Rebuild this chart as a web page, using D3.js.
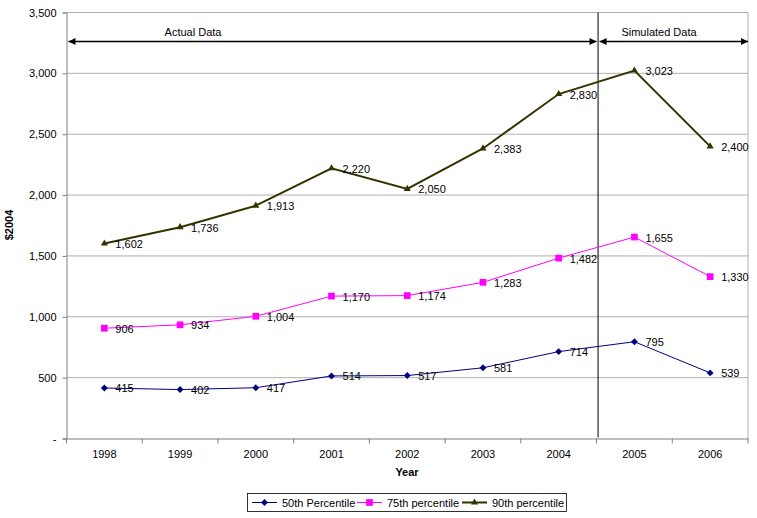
<!DOCTYPE html>
<html><head><meta charset="utf-8">
<script src="https://cdn.jsdelivr.net/npm/d3@7"></script>
<style>body{margin:0;background:#fff}svg{display:block;font-family:"Liberation Sans",Arial,sans-serif}</style>
</head><body><svg id="c" width="757" height="518"></svg>
<script>
const years = ["1998","1999","2000","2001","2002","2003","2004","2005","2006"];
const p50 = [415,402,417,514,517,581,714,795,539];
const p75 = [906,934,1004,1170,1174,1283,1482,1655,1330];
const p90 = [1602,1736,1913,2220,2050,2383,2830,3023,2400];
const yTicks = [0,500,1000,1500,2000,2500,3000,3500];
const seriesNames = ["50th Percentile","75th percentile","90th percentile"];

const svg = d3.select("#c");
const L=66.5, R=748, T=12.5, B=438.5;
const x = d3.scaleBand().domain(years).range([L,R]);
const y = d3.scaleLinear().domain([0,3500]).range([B,T]);
const fmt = d3.format(",");

// gridlines
svg.append("g").selectAll("line").data(yTicks.filter(d=>d>0)).join("line")
  .attr("x1",L).attr("x2",R).attr("y1",d=>y(d)).attr("y2",d=>y(d))
  .attr("stroke","#b0b0b0").attr("stroke-width",1);
svg.append("line").attr("x1",R).attr("x2",R).attr("y1",T).attr("y2",B).attr("stroke","#b0b0b0");

// y axis
const yAxis = d3.axisLeft(y).tickValues(yTicks).tickSize(4).tickPadding(6)
  .tickFormat(d=>d===0?"-":fmt(d));
const gy = svg.append("g").attr("transform",`translate(${L},0)`).call(yAxis);
gy.select(".domain").attr("stroke","#808080");
gy.selectAll(".tick line").attr("stroke","#808080");
gy.selectAll("text").attr("font-size",11).attr("fill","#000").attr("font-family","Liberation Sans, Arial, sans-serif");

// x axis
const xAxis = d3.axisBottom(x).tickSize(0).tickPadding(12);
const gx = svg.append("g").attr("transform",`translate(0,${B})`).call(xAxis);
gx.select(".domain").attr("stroke","#808080");
gx.selectAll("text").attr("font-size",11).attr("fill","#000").attr("font-family","Liberation Sans, Arial, sans-serif");
const bounds = years.map(d=>x(d)).concat([R]);
svg.append("g").selectAll("line").data(bounds).join("line")
  .attr("x1",d=>d).attr("x2",d=>d).attr("y1",B).attr("y2",B+5).attr("stroke","#808080");

// axis titles
svg.append("text").attr("x",407).attr("y",476).attr("text-anchor","middle")
  .attr("font-size",11).attr("font-weight","bold").text("Year");
svg.append("text").attr("transform","translate(13,225) rotate(-90)").attr("text-anchor","middle")
  .attr("font-size",11).attr("font-weight","bold").text("$2004");

// divider
const div = x("2005") + 1.5;
svg.append("line").attr("x1",div).attr("x2",div).attr("y1",T).attr("y2",B-1).attr("stroke","#000").attr("stroke-width",1);

// arrows
const defs = svg.append("defs");
defs.append("marker").attr("id","ah").attr("viewBox","0 0 10 10").attr("refX",10).attr("refY",5)
  .attr("markerWidth",10).attr("markerHeight",7).attr("markerUnits","userSpaceOnUse").attr("orient","auto-start-reverse")
  .append("path").attr("d","M0,0L10,5L0,10Z").attr("fill","#000");
const ay = 41.5;
function arrow(x1,x2){
  svg.append("line").attr("x1",x1).attr("x2",x2).attr("y1",ay).attr("y2",ay)
    .attr("stroke","#000").attr("stroke-width",1.5)
    .attr("marker-start","url(#ah)").attr("marker-end","url(#ah)");
}
arrow(L+2, div-1.5);
arrow(div+1.5, R);
svg.append("text").attr("x",193).attr("y",36).attr("text-anchor","middle").attr("font-size",11).text("Actual Data");
svg.append("text").attr("x",659).attr("y",36).attr("text-anchor","middle").attr("font-size",11).text("Simulated Data");

// custom diamond (rotated square)
const diamond = {draw(ctx,size){const r=Math.sqrt(size/2);ctx.moveTo(0,-r);ctx.lineTo(r,0);ctx.lineTo(0,r);ctx.lineTo(-r,0);ctx.closePath();}};

const cx = d=>x(d)+x.bandwidth()/2;
const series = [
  {name:seriesNames[0], vals:p50, color:"#000080", shape:diamond, size:24, w:1},
  {name:seriesNames[1], vals:p75, color:"#FF00FF", shape:d3.symbolSquare, size:45, w:1},
  {name:seriesNames[2], vals:p90, color:"#333300", shape:d3.symbolTriangle, size:22, w:2}
];
const line = d3.line().x((v,i)=>cx(years[i])).y(v=>y(v));
series.forEach(s=>{
  const g = svg.append("g");
  g.append("path").attr("d",line(s.vals)).attr("fill","none").attr("stroke",s.color).attr("stroke-width",s.w);
  g.selectAll("path.m").data(s.vals).join("path").attr("class","m")
    .attr("transform",(v,i)=>`translate(${cx(years[i])},${y(v)})`)
    .attr("d",d3.symbol().type(s.shape).size(s.size)).attr("fill",s.color);
  g.selectAll("text").data(s.vals).join("text")
    .attr("x",(v,i)=>cx(years[i])+11).attr("y",v=>y(v)+4.5)
    .attr("font-size",11).attr("fill","#000").text(v=>fmt(v));
});

// legend
const lg = svg.append("g");
lg.append("rect").attr("x",247.5).attr("y",493.5).attr("width",319).attr("height",18)
  .attr("fill","#fff").attr("stroke","#000").attr("stroke-width",0.8);
const lx = [252, 357, 462];
series.forEach((s,i)=>{
  const gx0 = lx[i];
  lg.append("line").attr("x1",gx0).attr("x2",gx0+25).attr("y1",502.5).attr("y2",502.5)
    .attr("stroke",s.color).attr("stroke-width",s.w);
  lg.append("path").attr("transform",`translate(${gx0+12.5},502.5)`)
    .attr("d",d3.symbol().type(s.shape).size(s.size)).attr("fill",s.color);
  lg.append("text").attr("x",gx0+30).attr("y",506.5).attr("font-size",11).text(s.name);
});
</script></body></html>
